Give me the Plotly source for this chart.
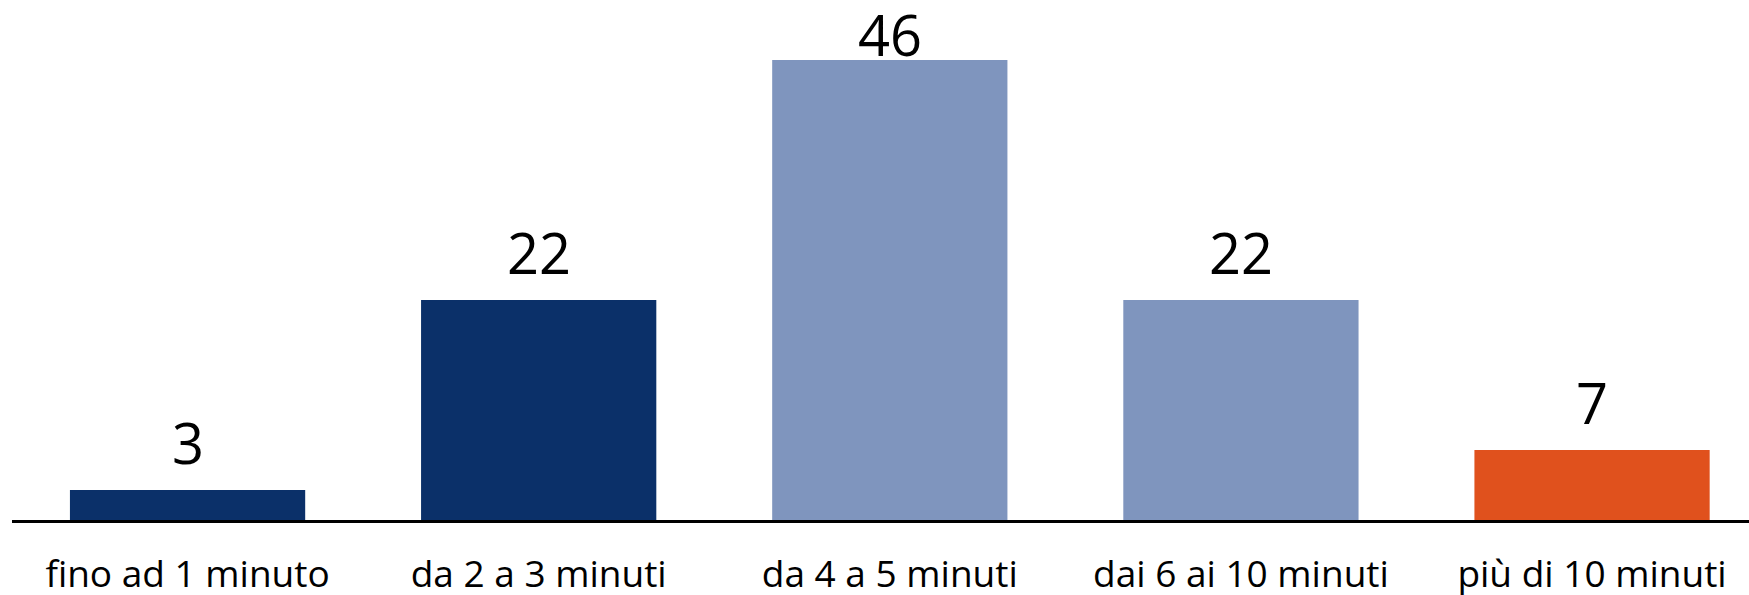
import plotly.graph_objects as go

# Distribuzione dei tempi
categories = ["fino ad 1 minuto", "da 2 a 3 minuti", "da 4 a 5 minuti",
              "dai 6 ai 10 minuti", "più di 10 minuti"]
values = [3, 22, 46, 22, 7]
bar_colors = ["#0B3069", "#0B3069", "#7F95BE", "#7F95BE", "#E0511D"]

fig = go.Figure()
fig.add_trace(go.Bar(
    x=categories,
    y=values,
    marker=dict(color=bar_colors, line=dict(width=0)),
    width=0.67,
    hoverinfo="skip",
))

# Value labels above each bar; the tallest one sits tight on its bar to stay inside
top = max(values)
for cat, v in zip(categories, values):
    fig.add_annotation(
        x=cat, y=v, text=str(v),
        showarrow=False, yanchor="bottom", borderpad=0,
        yshift=(9 if v < top else -13),
        font=dict(family="Open Sans", size=56, color="#000000"),
    )

fig.update_layout(
    width=1749, height=595,
    margin=dict(l=12, r=0, t=0, b=75),
    paper_bgcolor="white", plot_bgcolor="white",
    showlegend=False,
    font=dict(family="Open Sans", color="#000000"),
)
fig.update_xaxes(
    range=[-0.5, 4.447],
    automargin=False,
    showline=True, linecolor="#000000", linewidth=3,
    showgrid=False, ticks="",
    tickfont=dict(family="Open Sans", size=37, color="#000000"),
    ticklabelstandoff=20,
)
fig.update_yaxes(
    range=[0, 52],
    automargin=False,
    visible=False, showgrid=False, zeroline=False,
)

fig.write_html("out.html")
